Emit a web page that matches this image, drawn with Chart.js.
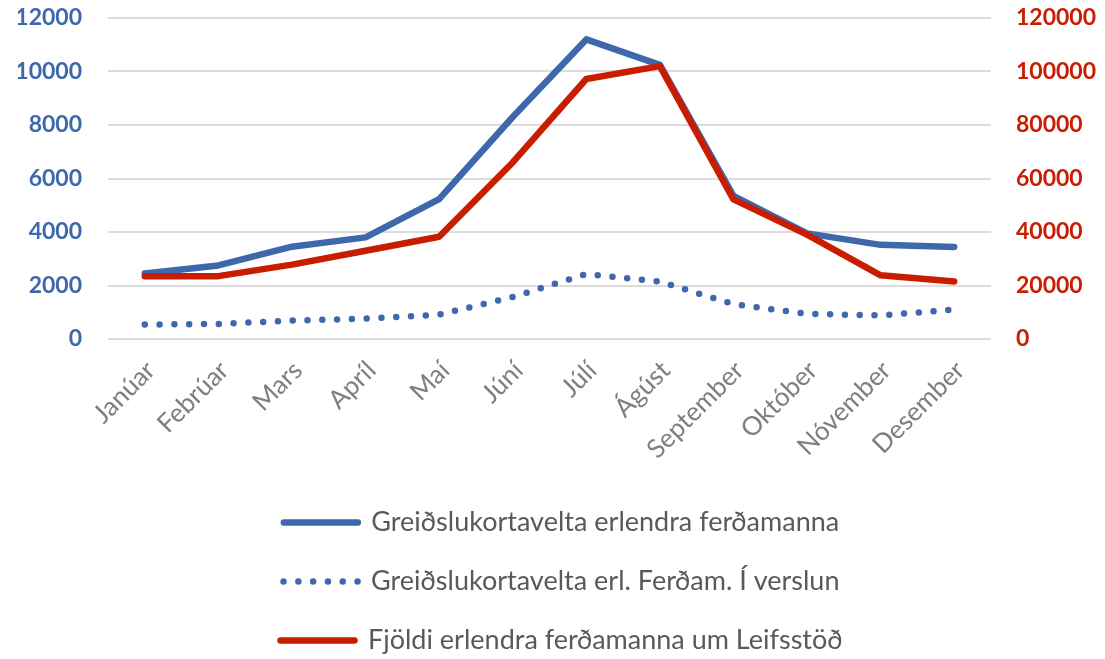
<!DOCTYPE html>
<html>
<head>
<meta charset="utf-8">
<script src="https://cdn.jsdelivr.net/npm/chart.js@4.4.1/dist/chart.umd.min.js"></script>
<style>
  body { margin: 0; background: #fff; }
  canvas { display: block; }
</style>
</head>
<body>
<canvas id="myChart" width="1105" height="659"></canvas>
<script>
var months = ['Janúar', 'Febrúar', 'Mars', 'Apríl', 'Maí', 'Júní', 'Júlí', 'Ágúst', 'September', 'Október', 'Nóvember', 'Desember'];
var kortavelta = [2450, 2750, 3450, 3800, 5230, 8300, 11200, 10250, 5350, 3950, 3520, 3440];
var kortaveltaVerslun = [540, 560, 690, 760, 910, 1570, 2430, 2150, 1300, 940, 880, 1100];
var fjoldi = [23500, 23500, 27800, 33000, 38200, 66000, 97200, 102000, 52200, 39000, 23800, 21500];

var blue = '#3D69AC';
var red = '#C91D02';

// y axes: keep the label gap but drop the extra top/bottom padding chart.js adds for it
function yFit(width) {
    return function (scale) {
        scale.width = width;
        scale.paddingTop = 0;
        scale.paddingBottom = 0;
    };
}

var ctx = document.getElementById('myChart').getContext('2d');
var myChart = new Chart(ctx, {
    type: 'line',
    data: {
        labels: months,
        datasets: [{
            label: 'Greiðslukortavelta erlendra ferðamanna',
            data: kortavelta,
            yAxisID: 'y',
            borderColor: blue,
            backgroundColor: blue,
            borderWidth: 6.5,
            borderCapStyle: 'round',
            borderJoinStyle: 'round',
            pointRadius: 0,
            tension: 0,
            order: 2
        },
        {
            label: 'Greiðslukortavelta erl. Ferðam. Í verslun',
            data: kortaveltaVerslun,
            yAxisID: 'y',
            borderColor: blue,
            backgroundColor: blue,
            borderWidth: 6.5,
            borderDash: [0, 14.8],
            borderCapStyle: 'round',
            borderJoinStyle: 'round',
            pointRadius: 0,
            tension: 0,
            order: 3
        },
        {
            label: 'Fjöldi erlendra ferðamanna um Leifsstöð',
            data: fjoldi,
            yAxisID: 'y1',
            borderColor: red,
            backgroundColor: red,
            borderWidth: 6.5,
            borderCapStyle: 'round',
            borderJoinStyle: 'round',
            pointRadius: 0,
            tension: 0,
            order: 1
        }]
    },
    options: {
        responsive: false,
        animation: false,
        devicePixelRatio: 1,
        layout: { padding: { top: 18, left: 18, right: 0, bottom: -5 } },
        plugins: {
            tooltip: { enabled: false },
            legend: {
                position: 'bottom',
                labels: {
                    boxWidth: 74,
                    boxHeight: 0,
                    padding: 32,
                    color: '#595959',
                    font: { family: 'Lato', size: 27 },
                    sort: function (a, b) { return a.datasetIndex - b.datasetIndex; }
                }
            }
        },
        scales: {
            x: {
                offset: true,
                grid: { display: false, drawTicks: false },
                border: { display: false },
                ticks: {
                    color: '#7F7F7F',
                    font: { family: 'Lato', size: 26 },
                    minRotation: 45,
                    maxRotation: 45,
                    padding: 16,
                    labelOffset: 6
                },
                afterFit: function (scale) {
                    scale.height = 138;
                    scale.paddingLeft = 0;
                    scale.paddingRight = 0;
                }
            },
            y: {
                position: 'left',
                min: 0,
                max: 12000,
                grid: { color: '#DCDCDC', lineWidth: 2, drawTicks: false },
                border: { display: false },
                ticks: {
                    stepSize: 2000,
                    color: blue,
                    padding: 26,
                    font: { family: 'Lato', size: 23, weight: 'bold' },
                    callback: function (v) { return String(v); }
                },
                afterFit: yFit(90)
            },
            y1: {
                position: 'right',
                min: 0,
                max: 120000,
                grid: { drawOnChartArea: false, drawTicks: false },
                border: { display: false },
                ticks: {
                    stepSize: 20000,
                    color: red,
                    padding: 25,
                    font: { family: 'Lato', size: 23, weight: 'bold' },
                    callback: function (v) { return String(v); }
                },
                afterFit: yFit(114)
            }
        }
    }
});
</script>
</body>
</html>
